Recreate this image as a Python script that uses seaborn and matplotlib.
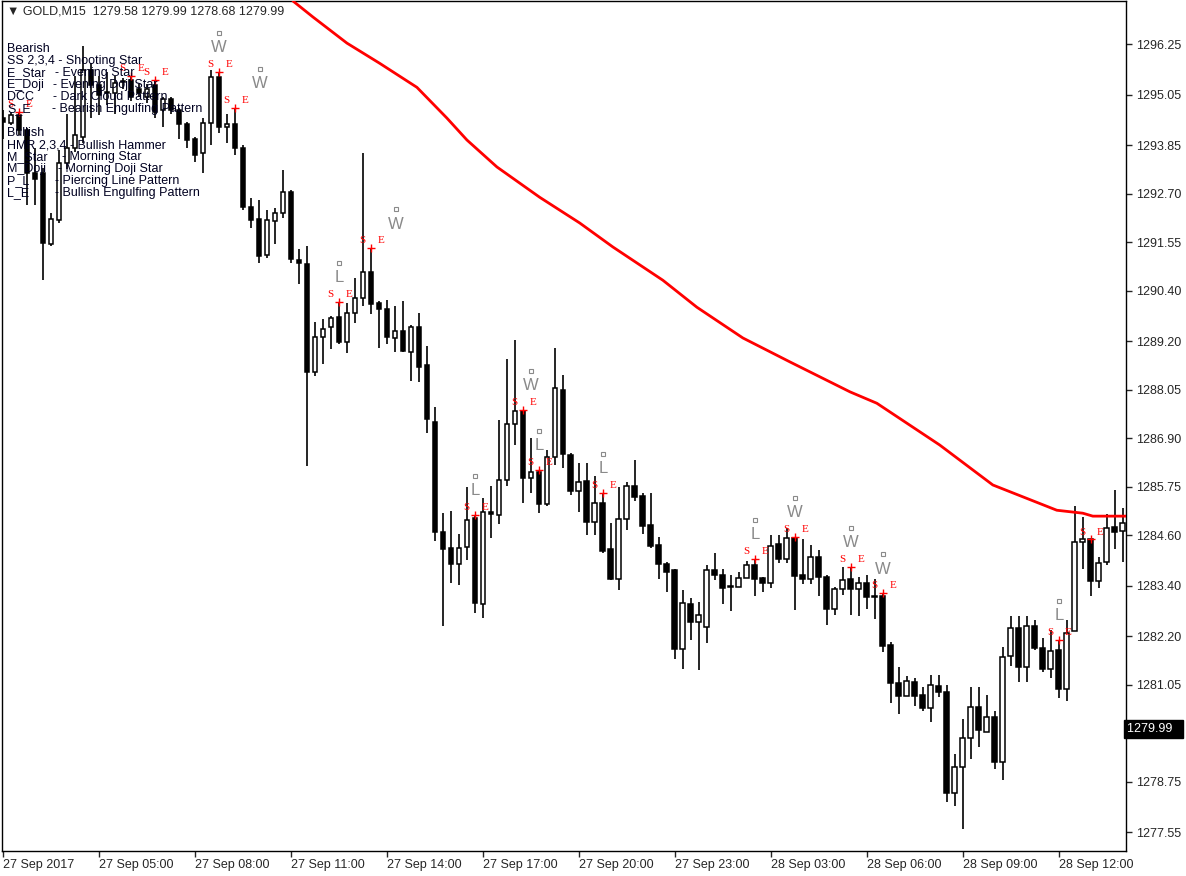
import matplotlib
matplotlib.use("Agg")
import matplotlib.pyplot as plt
import seaborn as sns
import numpy as np
import pandas as pd

# ---------------- data ----------------
opens = [1294.5,1294.38,1294.57,1294.21,1293.2,1293.19,1291.5,1292.08,1293.43,1293.8,
         1294.05,1295.64,1295.28,1295.1,1295.1,1295.35,1295.4,1295.2,1295.0,1295.28,
         1294.7,1294.95,1294.7,1294.35,1294.0,1293.67,1294.38,1295.47,1294.3,1294.35,
         1293.8,1292.4,1292.1,1291.25,1292.05,1292.25,1292.74,1291.13,1291.03,1288.47,
         1289.3,1289.54,1289.78,1289.18,1289.87,1290.23,1290.84,1290.1,1289.96,1289.28,
         1289.44,1288.94,1289.54,1288.63,1287.28,1284.67,1284.29,1283.91,1284.32,1285.0,
         1282.97,1285.15,1285.08,1285.91,1287.24,1287.55,1285.95,1286.1,1285.34,1286.45,
         1288.05,1286.5,1285.65,1285.88,1284.91,1285.36,1284.27,1283.56,1284.98,1285.76,
         1285.52,1284.84,1284.36,1283.91,1283.77,1281.89,1282.97,1282.54,1282.42,1283.77,
         1283.65,1283.37,1283.37,1283.58,1283.89,1283.58,1283.46,1284.39,1284.03,1284.53,
         1283.65,1283.56,1284.08,1283.6,1282.85,1283.32,1283.56,1283.32,1283.46,1283.13,
         1283.15,1281.99,1281.09,1280.78,1281.11,1280.8,1280.5,1281.02,1280.87,1278.48,
         1279.1,1279.78,1280.52,1279.92,1280.28,1279.21,1281.72,1282.39,1281.47,1282.44,
         1281.92,1281.42,1281.87,1280.95,1282.33,1284.43,1284.5,1283.51,1283.96,1284.79,
         1284.69]
closes = [1294.4,1294.57,1294.21,1293.19,1293.05,1291.53,1292.1,1293.43,1293.8,1294.1,
          1295.64,1295.28,1295.05,1295.12,1295.33,1295.35,1295.0,1295.1,1295.2,1294.64,
          1294.95,1294.7,1294.35,1293.98,1293.62,1294.38,1295.47,1294.29,1294.36,1293.8,
          1292.39,1292.08,1291.22,1292.07,1292.25,1292.74,1291.15,1291.05,1288.47,1289.3,
          1289.49,1289.75,1289.18,1289.87,1290.23,1290.84,1290.08,1289.96,1289.3,1289.44,
          1288.97,1289.54,1288.59,1287.35,1284.67,1284.27,1283.91,1284.29,1284.97,1282.99,
          1285.15,1285.1,1285.91,1287.24,1287.55,1285.95,1286.1,1285.34,1286.45,1288.09,
          1286.52,1285.65,1285.86,1284.91,1285.36,1284.22,1283.56,1284.98,1285.76,1285.5,
          1284.81,1284.34,1283.91,1283.72,1281.89,1282.99,1282.54,1282.71,1283.77,1283.65,
          1283.34,1283.37,1283.58,1283.89,1283.56,1283.46,1284.34,1284.03,1284.53,1283.63,
          1283.56,1284.08,1283.6,1282.85,1283.32,1283.53,1283.32,1283.46,1283.13,1283.13,
          1281.97,1281.09,1280.78,1281.14,1280.78,1280.5,1281.04,1280.87,1278.48,1279.1,
          1279.78,1280.52,1279.97,1280.28,1279.21,1281.7,1282.39,1281.47,1282.44,1281.92,
          1281.42,1281.85,1280.95,1282.28,1284.43,1284.5,1283.51,1283.94,1284.77,1284.67,
          1284.88]
highs = [1294.7,1294.64,1294.64,1294.26,1293.8,1293.31,1292.24,1293.74,1294.6,1295.5,
         1296.2,1295.8,1295.5,1295.6,1295.5,1295.45,1295.5,1295.3,1295.3,1295.4,
         1295.0,1295.0,1294.75,1294.4,1294.05,1294.5,1295.64,1295.6,1294.6,1294.74,
         1293.85,1292.6,1292.55,1292.32,1292.36,1293.27,1292.8,1291.4,1291.46,1289.66,
         1289.73,1289.8,1290.13,1290.1,1290.7,1293.67,1291.41,1290.15,1290.18,1290.04,
         1290.15,1289.59,1289.87,1289.1,1287.64,1285.12,1285.17,1284.62,1285.74,1285.08,
         1285.48,1285.76,1287.33,1288.78,1289.23,1287.57,1286.9,1286.15,1286.62,1289.04,
         1288.4,1286.55,1286.31,1286.31,1286.0,1285.6,1284.88,1285.74,1285.86,1286.38,
         1285.6,1285.6,1284.55,1283.95,1283.8,1283.3,1283.1,1283.0,1283.89,1284.17,
         1283.79,1283.65,1283.72,1283.98,1284.03,1283.6,1284.6,1284.6,1284.77,1284.56,
         1284.5,1284.36,1284.24,1283.65,1283.37,1283.84,1283.84,1283.6,1283.65,1283.55,
         1283.22,1282.06,1281.47,1281.26,1281.2,1281.0,1281.28,1281.28,1281.05,1279.4,
         1280.23,1280.99,1280.99,1280.8,1280.42,1281.94,1282.68,1282.68,1282.68,1282.58,
         1282.16,1282.35,1282.11,1282.58,1285.29,1285.03,1284.5,1284.08,1285.1,1285.67,
         1285.24]
lows = [1294.0,1294.33,1294.1,1292.43,1292.43,1290.65,1291.46,1292.0,1293.3,1293.7,
        1293.9,1294.5,1294.57,1294.8,1294.6,1295.2,1294.9,1295.0,1294.85,1294.5,
        1294.3,1294.6,1294.0,1293.8,1293.45,1293.2,1293.86,1294.14,1293.9,1293.62,
        1292.32,1291.9,1291.06,1291.18,1291.5,1292.13,1291.06,1290.55,1286.24,1288.38,
        1288.66,1289.02,1289.13,1288.92,1289.63,1290.04,1289.85,1289.04,1289.13,1288.94,
        1288.94,1288.26,1288.23,1287.02,1284.46,1282.44,1283.46,1283.41,1284.01,1282.75,
        1282.63,1284.53,1284.86,1285.76,1286.74,1285.36,1285.6,1285.12,1285.29,1286.26,
        1286.19,1285.55,1285.15,1284.6,1284.6,1284.17,1283.54,1283.3,1284.72,1285.41,
        1284.62,1284.3,1283.56,1283.25,1281.66,1281.42,1282.1,1281.4,1282.04,1283.53,
        1282.97,1282.8,1283.37,1283.58,1283.15,1283.25,1283.34,1283.94,1283.94,1282.82,
        1283.44,1283.44,1283.15,1282.47,1282.7,1283.18,1282.7,1282.68,1282.85,1282.6,
        1281.82,1280.61,1280.35,1280.78,1280.55,1280.42,1280.16,1280.75,1278.26,1278.17,
        1277.62,1279.28,1279.57,1279.92,1279.05,1278.79,1281.49,1281.11,1281.11,1281.88,
        1281.35,1281.21,1280.73,1280.66,1282.33,1283.79,1283.15,1283.34,1283.89,1284.27,
        1283.96]

ma_idx = [36.25, 38.75, 43, 47.1, 51.75, 55.5, 58, 61.75, 67.1, 72.1, 76.25, 82.5, 86.75,
          92.5, 98.4, 105.9, 109.25, 117.1, 123.75, 131.75, 135, 136.25, 140.4]
ma_val = [1297.28, 1296.90, 1296.28, 1295.80, 1295.23, 1294.50, 1293.98, 1293.34, 1292.62,
          1292.01, 1291.44, 1290.65, 1290.01, 1289.28, 1288.71, 1288.0, 1287.73, 1286.74,
          1285.79, 1285.19, 1285.12, 1285.05, 1285.05]

se_idx = [2, 16, 19, 27, 29, 42, 46, 59, 65, 67, 75, 94, 99, 106, 110, 132, 136]
wl_idx = [27, 29, 42, 46, 59, 65, 67, 75, 94, 99, 106, 110, 132]
wl_txt = ["W", "W", "L", "W", "L", "W", "L", "L", "L", "W", "W", "W", "L"]
wl_dx = [0, 25, 0, 25, 0, 8, 0, 0, 0, 0, 0, 0, 0]

date_labels = ["27 Sep 2017", "27 Sep 05:00", "27 Sep 08:00", "27 Sep 11:00", "27 Sep 14:00",
               "27 Sep 17:00", "27 Sep 20:00", "27 Sep 23:00", "28 Sep 03:00", "28 Sep 06:00",
               "28 Sep 09:00", "28 Sep 12:00"]
price_ticks = [1296.25, 1295.05, 1293.85, 1292.70, 1291.55, 1290.40, 1289.20, 1288.05, 1286.90,
               1285.75, 1284.60, 1283.40, 1282.20, 1281.05, 1279.90, 1278.75, 1277.55]
last_price = 1279.99

df = pd.DataFrame({"o": opens, "h": highs, "l": lows, "c": closes})
df["i"] = np.arange(len(df))

# ---------------- plot ----------------
sns.set_style("white")
plt.rcParams["font.family"] = ["Liberation Sans", "DejaVu Sans"]
W, H = 1186, 876
fig = plt.figure(figsize=(W / 100, H / 100), dpi=100)
ax = fig.add_axes([2 / W, 1 - 851 / H, 1124 / W, 850 / H])
ax.set_xlim(-0.125, 140.4)
ax.set_ylim(1277.10, 1297.28)

up = df[df.c >= df.o]
dn = df[df.c < df.o]
ax.vlines(df.i, df.l, df.h, color="black", lw=1.2, zorder=2)
ax.bar(up.i, (up.c - up.o).clip(lower=0.03), bottom=up.o, width=0.6,
       color="white", edgecolor="black", lw=1.1, zorder=3)
ax.bar(dn.i, (dn.o - dn.c).clip(lower=0.03), bottom=dn.c, width=0.6,
       color="black", edgecolor="black", lw=1.1, zorder=3)

sns.lineplot(x=ma_idx, y=ma_val, color="#ff0000", lw=2, ax=ax, zorder=4)

for k in se_idx:
    hy = highs[k]
    ax.plot([k], [hy], marker="+", color="red", ms=6, mew=1.0, zorder=5)
    ax.annotate("S", (k, hy), xytext=(-6, 2), textcoords="offset points", color="red",
                fontsize=8, family="Liberation Serif", ha="center", va="bottom", zorder=6)
    ax.annotate("E", (k, hy), xytext=(7, 2), textcoords="offset points", color="red",
                fontsize=8, family="Liberation Serif", ha="center", va="bottom", zorder=6)

for k, t, dx in zip(wl_idx, wl_txt, wl_dx):
    hy = highs[k]
    ax.annotate(t, (k, hy), xytext=(dx * 0.72, 12), textcoords="offset points", color="#8a8a8a",
                fontsize=12, ha="center", va="bottom", zorder=6)
    ax.plot([k + dx / 8.0], [hy], marker="s", ms=2.5, mfc="white", mec="#8a8a8a", mew=0.8,
            linestyle="none", zorder=6, transform=ax.transData +
            matplotlib.transforms.ScaledTranslation(0, 28 / 72, fig.dpi_scale_trans))

# axes styling
for s in ["top", "bottom", "left", "right"]:
    ax.spines[s].set_visible(True)
    ax.spines[s].set_color("black")
    ax.spines[s].set_linewidth(1)
ax.yaxis.tick_right()
ax.set_yticks(price_ticks)
ax.set_yticklabels([f"{v:.2f}" for v in price_ticks], fontsize=9)
ax.tick_params(axis="y", direction="out", length=4, width=1, pad=3, right=True)
ax.set_xticks(np.arange(0, 12 * len(date_labels), 12))
ax.set_xticklabels(date_labels, fontsize=9, ha="left")
ax.tick_params(axis="x", direction="out", length=4, width=1, pad=2, bottom=True)
ax.grid(False)

ax.annotate(f"{last_price:.2f}  ", xy=(1.0, last_price), xycoords=("axes fraction", "data"),
            xytext=(1, 0), textcoords="offset points", color="white", fontsize=9,
            va="center", ha="left", annotation_clip=False, zorder=20,
            bbox=dict(boxstyle="square,pad=0.25", fc="black", ec="black"))

# header + legend texts
fig.text(7 / W, 1 - 12 / H, "\u25bc GOLD,M15  1279.58 1279.99 1278.68 1279.99",
         fontsize=9, va="center", ha="left")
legend_rows = [
    (49, "Bearish", ""), (61, "SS 2,3,4 - Shooting Star", ""),
    (73, "E_Star", "- Evening Star"), (85, "E_Doji", "- Evening Doji Star"),
    (97, "DCC", "- Dark Cloud Pattern"), (109, "S_E", "- Bearish Engulfing Pattern"),
    (133, "Bullish", ""), (145, "HMR 2,3,4 - Bullish Hammer", ""),
    (157, "M_Star", "- Morning Star"), (169, "M_Doji", "- Morning Doji Star"),
    (181, "P_L", "- Piercing Line Pattern"), (193, "L_E", "- Bullish Engulfing Pattern"),
]
desc_x = {"E_Star": 55, "E_Doji": 53, "DCC": 53, "S_E": 52, "M_Star": 62, "M_Doji": 58,
          "P_L": 55, "L_E": 55}
for y, a, b in legend_rows:
    fig.text(7 / W, 1 - y / H, a, fontsize=9, va="center", ha="left", color="#000020")
    if b:
        fig.text(desc_x[a] / W, 1 - y / H, b, fontsize=9, va="center", ha="left", color="#000020")

fig.savefig("out.png", dpi=100)
